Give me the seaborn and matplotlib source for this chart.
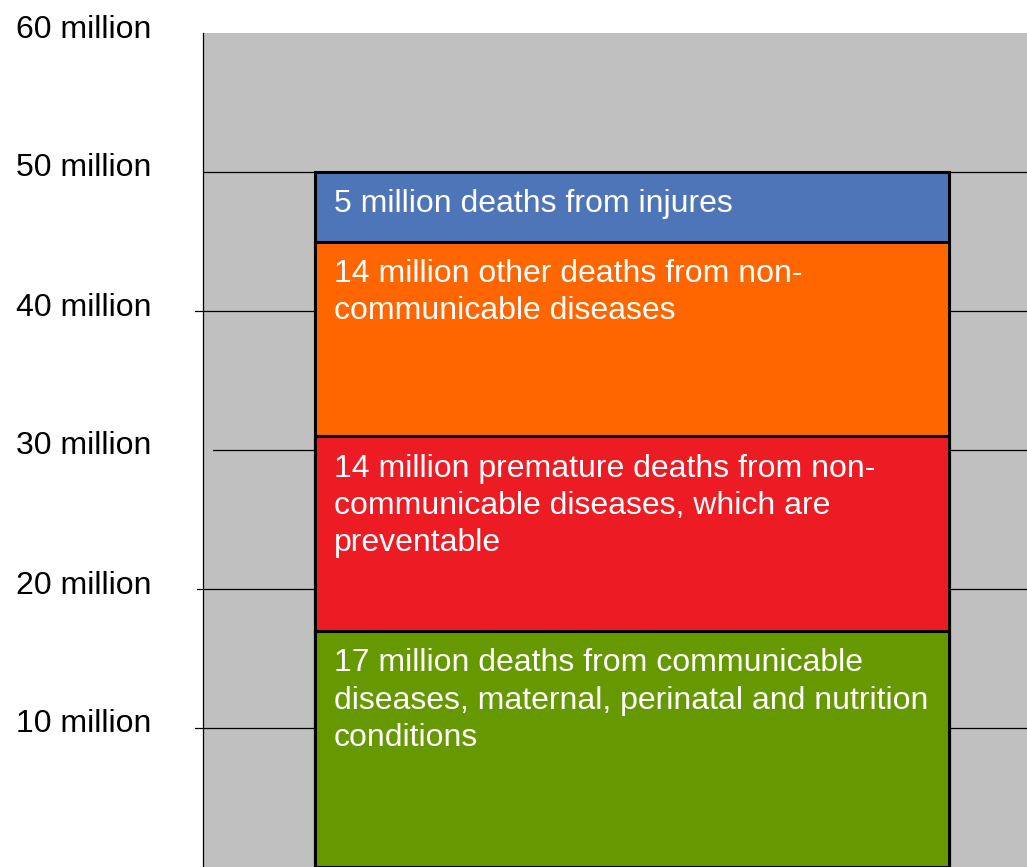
import numpy as np
import pandas as pd
import matplotlib
matplotlib.use("Agg")
import matplotlib.pyplot as plt
import matplotlib.transforms as mtransforms
import seaborn as sns

# Global deaths by cause, millions (stacked bottom to top)
segments = [
    "17 million deaths from communicable\ndiseases, maternal, perinatal and nutrition\nconditions",
    "14 million premature deaths from non-\ncommunicable diseases, which are\npreventable",
    "14 million other deaths from non-\ncommunicable diseases",
    "5 million deaths from injures",
]
values = [17, 14, 14, 5]
colors = ["#669900", "#ED1C24", "#FF6600", "#4F75B9"]
tick_values = [10, 20, 30, 40, 50, 60]
tick_labels = ["10 million", "20 million", "30 million", "40 million", "50 million", "60 million"]

sns.set_theme(style="white")
plt.rcParams["font.family"] = ["Liberation Sans", "DejaVu Sans"]

FS = 23
LINE_PX = 37.7      # distance between wrapped text lines
LINESPACING = 1.32  # matplotlib factor giving that distance at FS
FIRST_BASE_PX = 40  # first baseline below a segment's top edge
PX2PT = 72 / 100

fig = plt.figure(figsize=(10.27, 8.67), dpi=100)
ax = fig.add_axes([203 / 1027, 0.0, 824 / 1027, 834 / 867])
ax.set_facecolor("#C0C0C0")

tops = np.cumsum(values)

# stacked column: draw cumulative totals from the top down so each layer covers the next
for top, col in reversed(list(zip(tops, colors))):
    df = pd.DataFrame({"cat": ["all"], "total": [top]})
    sns.barplot(data=df, x="cat", y="total", color=col, saturation=1, width=0.8,
                edgecolor="black", linewidth=2.2, ax=ax, zorder=3)

ax.set_xlim(-0.5414, 0.4986)
ax.set_ylim(0, 60)
ax.set_xlabel("")
ax.set_ylabel("")
ax.set_xticks([])

# horizontal rules behind the column, some poking out past the axis line
start_px = {10: 195, 20: 197, 30: 213, 40: 195, 50: 203}
blend = mtransforms.blended_transform_factory(ax.transAxes, ax.transData)
for yv, xs in start_px.items():
    x0 = (xs - 203) / 824
    ax.plot([x0, 1.0], [yv, yv], color="black", lw=0.9, transform=blend,
            clip_on=False, zorder=1)

ax.set_yticks(tick_values)
ax.set_yticklabels(tick_labels, fontsize=FS, color="black")
ax.tick_params(axis="y", length=0, pad=37)
shift = mtransforms.ScaledTranslation(0, 7 / 100, fig.dpi_scale_trans)
for lab in ax.get_yticklabels():
    lab.set_transform(lab.get_transform() + shift)

for side in ["top", "right", "bottom"]:
    ax.spines[side].set_visible(False)
ax.spines["left"].set_color("black")
ax.spines["left"].set_linewidth(0.9)

# labels inside each segment; va="baseline" pins the last line, so drop by the extra lines
for text, top in zip(segments, tops):
    n = text.count("\n") + 1
    ax.annotate(text, xy=(-0.4, top),
                xytext=(19 * PX2PT, (-FIRST_BASE_PX - (n - 1) * LINE_PX) * PX2PT),
                textcoords="offset points", ha="left", va="baseline",
                color="white", fontsize=FS, linespacing=LINESPACING, zorder=5)

fig.savefig("out.png", dpi=100)
